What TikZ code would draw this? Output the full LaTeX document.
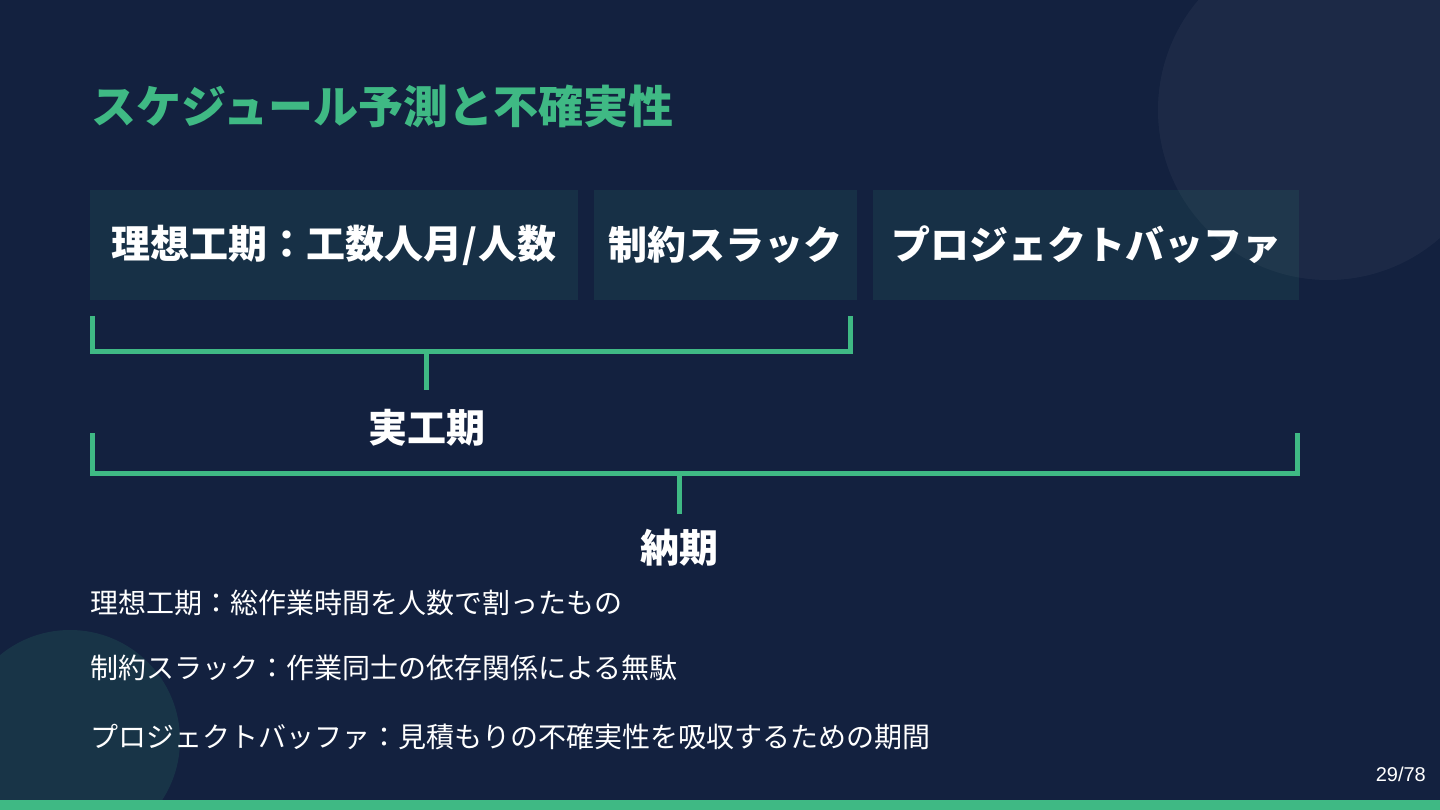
\documentclass[tikz,border=0pt]{standalone}
\usepackage{fontspec}
\setmainfont{Noto Sans CJK JP}
\newfontfamily\numfont{Liberation Sans}
\usetikzlibrary{calc}
\definecolor{bg}{HTML}{13213F}
\definecolor{acc}{HTML}{3FB984}
\begin{document}
\begin{tikzpicture}[x=1pt,y=-1pt,
  box/.style={fill=acc,fill opacity=0.1,text opacity=1,text=white,inner sep=0pt,minimum height=110pt,
    font=\fontsize{39}{44}\selectfont\bfseries},
  brk/.style={draw=acc,line width=5pt,line join=miter},
  lbl/.style={text=white,inner sep=0pt,font=\fontsize{39}{44}\selectfont\bfseries},
  note/.style={text=white,inner sep=0pt,anchor=west,font=\fontsize{28}{32}\selectfont}]
\useasboundingbox (0,0) rectangle (1440,810);
\fill[bg] (0,0) rectangle (1440,810);
\fill[white,opacity=0.04] (1328,110) circle (170pt);
\fill[acc,opacity=0.13] (70,740) circle (110pt);
\fill[acc] (0,800) rectangle (1440,810);

\node[text=acc,anchor=west,inner sep=0pt,font=\fontsize{45}{50}\selectfont\bfseries] (title) at (91,106) {スケジュール予測と不確実性};

\node[box,minimum width=488pt] (b1) at (334,245) {理想工期：工数人月/人数};
\node[box,minimum width=263pt] (b2) at (725.5,245) {制約スラック};
\node[box,minimum width=426pt] (b3) at (1086,245) {プロジェクトバッファ};

\coordinate (k1l) at (92,316);
\coordinate (k1r) at (850,316);
\coordinate (k1m) at (426,351);
\coordinate (k1e) at (426,390);
\node[lbl] (jk) at (427,428) {実工期};
\draw[brk] (k1l) -- ++(0,35) -| (k1r);
\draw[brk] (k1m) -- (k1e);

\coordinate (k2l) at (92,433);
\coordinate (k2r) at (1297,433);
\coordinate (k2m) at (679,473);
\coordinate (k2e) at (679,514);
\node[lbl] (nk) at (679,548) {納期};
\draw[brk] (k2l) -- ++(0,40) -| (k2r);
\draw[brk] (k2m) -- (k2e);

\node[note] (n1) at (90,603) {理想工期：総作業時間を人数で割ったもの};
\node[note] (n2) at (90,668) {制約スラック：作業同士の依存関係による無駄};
\node[note] (n3) at (90,737) {プロジェクトバッファ：見積もりの不確実性を吸収するための期間};

\node[text=white,anchor=base east,inner sep=0pt,font=\numfont\fontsize{20}{24}\selectfont] (pg) at (1426,781) {29/78};
\end{tikzpicture}
\end{document}
